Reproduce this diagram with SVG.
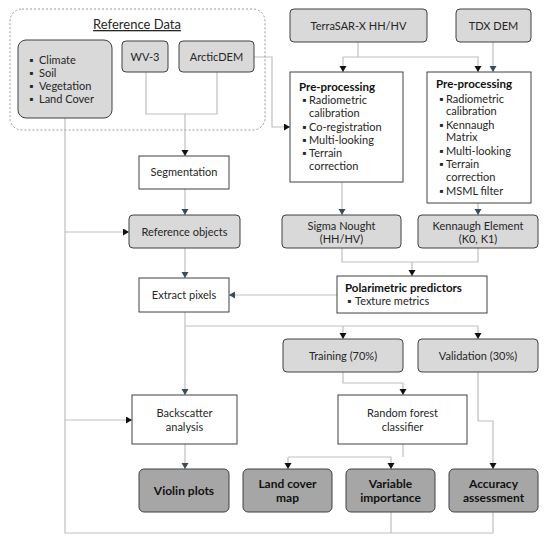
<svg xmlns="http://www.w3.org/2000/svg" width="550" height="541" viewBox="0 0 550 541">
<defs>
<style>
.t{font-family:Lato,"Noto Sans","Liberation Sans",sans-serif;font-size:11px;fill:#262626}
.c{text-anchor:middle}
.b{font-weight:bold;fill:#111}
.h{font-size:11.5px}
.o{font-size:12px}
.g{fill:#d9d9d9;stroke:#404040;stroke-width:1}
.d{fill:#a6a6a6;stroke:#404040;stroke-width:1}
.w{fill:#fff;stroke:#404040;stroke-width:1}
.l{fill:none;stroke:#bfbfbf;stroke-width:1.2}
.k{marker-end:url(#ak)}
.s{marker-end:url(#as)}
</style>
<marker id="ak" markerUnits="userSpaceOnUse" markerWidth="8" markerHeight="8" refX="6" refY="3.5" orient="auto"><path d="M0,0 L6,3.5 L0,7 Z" fill="#111"/></marker>
<marker id="as" markerUnits="userSpaceOnUse" markerWidth="8" markerHeight="8" refX="6" refY="3.5" orient="auto"><path d="M0,0 L6,3.5 L0,7 Z" fill="#3d4b57"/></marker>
</defs>
<rect width="550" height="541" fill="#fff"/>

<g id="connectors">
<path class="l" d="M65,118 V533 H493"/>
<path class="l k" d="M65,232 H129"/>
<path class="l k" d="M65,420 H132"/>
<path class="l" d="M391,512 V533"/>
<path class="l" d="M493,512 V533"/>
<path class="l" d="M146,72 V114 H217 V72"/>
<path class="l k" d="M185,114 V156"/>
<path class="l k" d="M254,57 H272 V127 H290"/>
<path class="l s" d="M185,189 V215"/>
<path class="l s" d="M185,248 V278"/>
<path class="l s" d="M337,295 H229"/>
<path class="l s" d="M185,312 V395"/>
<path class="l" d="M185,326 H478"/>
<path class="l k" d="M343,326 V339"/>
<path class="l k" d="M478,326 V339"/>
<path class="l s" d="M185,444 V469"/>
<path class="l" d="M358,42 V57"/>
<path class="l k" d="M343,57 V72"/>
<path class="l k" d="M343,57 H478 V72"/>
<path class="l s" d="M493,42 V72"/>
<path class="l s" d="M342,182 V215"/>
<path class="l s" d="M478,203 V215"/>
<path class="l" d="M342,248 V262 H478 V248"/>
<path class="l k" d="M412,262 V276"/>
<path class="l k" d="M343,372 V383 H403 V395"/>
<path class="l k" d="M478,372 V421 H493 V469"/>
<path class="l" d="M403,444 V457"/>
<path class="l k" d="M288,457 V469"/>
<path class="l k" d="M288,457 H391 V469"/>
</g>

<g id="reference-data">
<rect x="10" y="9" width="255" height="121" rx="12" fill="none" stroke="#9a9a9a" stroke-width="1" stroke-dasharray="2,2"/>
<text class="t c" x="137" y="29" text-decoration="underline" style="font-size:13px">Reference Data</text>
</g>

<g id="climate">
<rect class="g" x="18" y="40" width="94" height="78" rx="8"/>
<text class="t" x="29" y="64">▪ <tspan x="39">Climate</tspan></text>
<text class="t" x="29" y="77">▪ <tspan x="39">Soil</tspan></text>
<text class="t" x="29" y="90">▪ <tspan x="39">Vegetation</tspan></text>
<text class="t" x="29" y="103">▪ <tspan x="39">Land Cover</tspan></text>
</g>

<g id="wv3">
<rect class="g" x="122" y="41" width="46" height="31" rx="4"/>
<text class="t c" x="145" y="61">WV-3</text>
</g>

<g id="arcticdem">
<rect class="g" x="179" y="41" width="75" height="31" rx="4"/>
<text class="t c" x="216.5" y="61">ArcticDEM</text>
</g>

<g id="terrasar">
<rect class="g" x="290" y="9" width="137" height="33" rx="4"/>
<text class="t c" x="358.5" y="30">TerraSAR-X HH/HV</text>
</g>

<g id="tdxdem">
<rect class="g" x="456" y="9" width="75" height="33" rx="4"/>
<text class="t c" x="493.5" y="30">TDX DEM</text>
</g>

<g id="preprocessing1">
<rect class="w" x="290" y="72" width="113" height="110"/>
<text class="t b h" x="299" y="91">Pre-processing</text>
<text class="t" x="302" y="104">▪ <tspan x="309">Radiometric</tspan></text>
<text class="t" x="309" y="117">calibration</text>
<text class="t" x="302" y="131">▪ <tspan x="309">Co-registration</tspan></text>
<text class="t" x="302" y="144">▪ <tspan x="309">Multi-looking</tspan></text>
<text class="t" x="302" y="157">▪ <tspan x="309">Terrain</tspan></text>
<text class="t" x="309" y="170">correction</text>
</g>

<g id="preprocessing2">
<rect class="w" x="427" y="72" width="104" height="131"/>
<text class="t b h" x="436" y="88">Pre-processing</text>
<text class="t" x="439" y="103">▪ <tspan x="446">Radiometric</tspan></text>
<text class="t" x="446" y="115">calibration</text>
<text class="t" x="439" y="129">▪ <tspan x="446">Kennaugh</tspan></text>
<text class="t" x="446" y="141">Matrix</text>
<text class="t" x="439" y="155">▪ <tspan x="446">Multi-looking</tspan></text>
<text class="t" x="439" y="168">▪ <tspan x="446">Terrain</tspan></text>
<text class="t" x="446" y="181">correction</text>
<text class="t" x="439" y="195">▪ <tspan x="446">MSML filter</tspan></text>
</g>

<g id="segmentation">
<rect class="w" x="139" y="156" width="90" height="33"/>
<text class="t c" x="184" y="176">Segmentation</text>
</g>

<g id="reference-objects">
<rect class="g" x="129" y="215" width="111" height="33" rx="4"/>
<text class="t c" x="184.5" y="236">Reference objects</text>
</g>

<g id="sigma-nought">
<rect class="g" x="282" y="215" width="119" height="33" rx="4"/>
<text class="t c" x="341.5" y="230">Sigma Nought</text>
<text class="t c" x="341.5" y="243">(HH/HV)</text>
</g>

<g id="kennaugh-element">
<rect class="g" x="418" y="215" width="120" height="33" rx="4"/>
<text class="t c" x="478" y="230">Kennaugh Element</text>
<text class="t c" x="478" y="243">(K0, K1)</text>
</g>

<g id="extract-pixels">
<rect class="w" x="139" y="278" width="90" height="34"/>
<text class="t c" x="184" y="299">Extract pixels</text>
</g>

<g id="polarimetric-predictors">
<rect class="w" x="337" y="276" width="150" height="37"/>
<text class="t b h" x="345" y="292">Polarimetric predictors</text>
<text class="t" x="347" y="305">▪ <tspan x="355">Texture metrics</tspan></text>
</g>

<g id="training">
<rect class="g" x="283" y="339" width="120" height="33" rx="4"/>
<text class="t c" x="343" y="360">Training (70%)</text>
</g>

<g id="validation">
<rect class="g" x="418" y="339" width="120" height="33" rx="4"/>
<text class="t c" x="478" y="360">Validation (30%)</text>
</g>

<g id="backscatter">
<rect class="w" x="132" y="395" width="105" height="49"/>
<text class="t c" x="184.5" y="417">Backscatter</text>
<text class="t c" x="184.5" y="431">analysis</text>
</g>

<g id="random-forest">
<rect class="w" x="338" y="395" width="129" height="49"/>
<text class="t c" x="402.5" y="417">Random forest</text>
<text class="t c" x="402.5" y="431">classifier</text>
</g>

<g id="violin-plots">
<rect class="d" x="139" y="469" width="90" height="43" rx="5"/>
<text class="t c b o" x="184" y="495">Violin plots</text>
</g>

<g id="land-cover-map">
<rect class="d" x="243" y="469" width="89" height="43" rx="5"/>
<text class="t c b o" x="287.5" y="488">Land cover</text>
<text class="t c b o" x="287.5" y="502">map</text>
</g>

<g id="variable-importance">
<rect class="d" x="346" y="469" width="89" height="43" rx="5"/>
<text class="t c b o" x="390.5" y="488">Variable</text>
<text class="t c b o" x="390.5" y="502">importance</text>
</g>

<g id="accuracy-assessment">
<rect class="d" x="449" y="469" width="89" height="43" rx="5"/>
<text class="t c b o" x="493.5" y="488">Accuracy</text>
<text class="t c b o" x="493.5" y="502">assessment</text>
</g>
</svg>
